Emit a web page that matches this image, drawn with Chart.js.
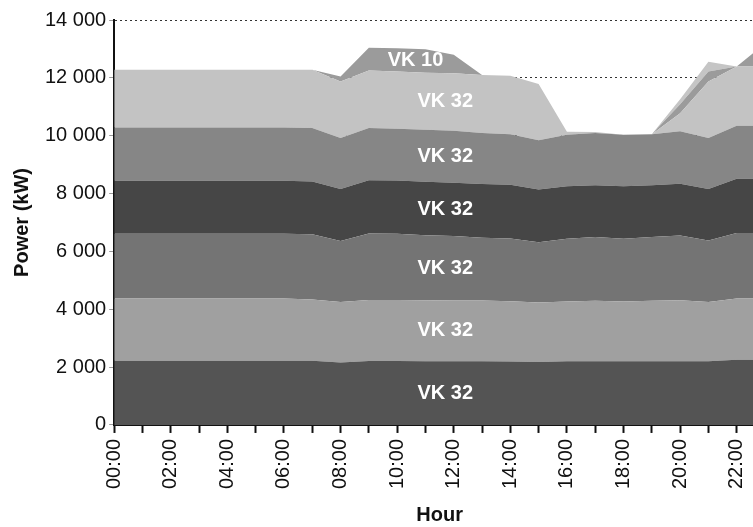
<!DOCTYPE html>
<html lang="en">
<head>
  <meta charset="UTF-8">
  <title>Power by hour</title>
  <script src="https://cdn.jsdelivr.net/npm/chart.js"></script>
  <style>
    html, body {
      margin: 0;
      padding: 0;
      background: #fff;
      overflow: hidden;
    }
    .wrap {
      position: relative;
      width: 795px;
      height: 527px;
    }
  </style>
</head>
<body>
  <div class="wrap"><canvas id="powerChart"></canvas></div>

  <script>
    const hours = ["00:00", "01:00", "02:00", "03:00", "04:00", "05:00", "06:00", "07:00",
                   "08:00", "09:00", "10:00", "11:00", "12:00", "13:00", "14:00", "15:00",
                   "16:00", "17:00", "18:00", "19:00", "20:00", "21:00", "22:00", "23:00"];

    // kW per unit, stacked bottom to top
    const vk32a = [2220, 2220, 2220, 2220, 2220, 2220, 2220, 2220, 2160, 2210, 2210, 2200, 2200, 2200, 2190, 2180, 2200, 2200, 2200, 2200, 2200, 2200, 2250, 2250];
    const vk32b = [2150, 2150, 2150, 2150, 2150, 2150, 2150, 2120, 2090, 2110, 2110, 2110, 2100, 2100, 2090, 2050, 2070, 2090, 2070, 2090, 2110, 2050, 2120, 2120];
    const vk32c = [2240, 2240, 2240, 2240, 2240, 2240, 2240, 2250, 2110, 2300, 2290, 2250, 2230, 2170, 2170, 2090, 2170, 2210, 2170, 2210, 2240, 2130, 2270, 2270];
    const vk32d = [1830, 1830, 1830, 1830, 1830, 1830, 1830, 1830, 1800, 1840, 1840, 1850, 1840, 1860, 1850, 1820, 1810, 1790, 1810, 1790, 1790, 1780, 1870, 1870];
    const vk32e = [1840, 1840, 1840, 1840, 1840, 1840, 1840, 1850, 1760, 1810, 1790, 1800, 1800, 1760, 1750, 1700, 1780, 1800, 1780, 1760, 1810, 1760, 1830, 1830];
    const vk32f = [2000, 2000, 2000, 2000, 2000, 2000, 2000, 2010, 1950, 1980, 1980, 1970, 1990, 2010, 2020, 1950, 110, 40, 0, 0, 630, 1950, 2050, 2050];
    const vk10  = [0, 0, 0, 0, 0, 0, 0, 0, 180, 790, 800, 810, 640, 0, 0, 0, 0, 0, 0, 0, 310, 350, 0, 800];
    const vk32g = [0, 0, 0, 0, 0, 0, 0, 0, 0, 0, 0, 0, 0, 0, 0, 0, 0, 0, 0, 0, 170, 340, 0, 0];

    const seriesNames  = ["VK 32", "VK 32", "VK 32", "VK 32", "VK 32", "VK 32", "VK 10", "VK 32"];
    const seriesData   = [vk32a, vk32b, vk32c, vk32d, vk32e, vk32f, vk10, vk32g];
    const seriesColors = ["#545454", "#a0a0a0", "#747474", "#464646", "#868686", "#c3c3c3", "#9b9b9b", "#c5c5c5"];
    // where along the hour axis each band name is written (null = no label)
    const labelPos = [11.7, 11.7, 11.7, 11.7, 11.7, 11.7, 10.65, null];

    const fontFamily = '"Liberation Sans", Arial, Helvetica, sans-serif';

    function spaced(v) {
      return String(v).replace(/\B(?=(\d{3})+(?!\d))/g, " ");
    }

    function valueAt(arr, t) {
      const i = Math.floor(t);
      const f = t - i;
      if (i >= arr.length - 1) return arr[arr.length - 1];
      return arr[i] * (1 - f) + arr[i + 1] * f;
    }

    const bandLabels = {
      id: "bandLabels",
      afterDatasetsDraw(chart) {
        const { ctx, scales: { x, y } } = chart;
        ctx.save();
        ctx.font = "bold 20px " + fontFamily;
        ctx.fillStyle = "#fff";
        ctx.textAlign = "center";
        ctx.textBaseline = "middle";
        seriesData.forEach((arr, k) => {
          const t = labelPos[k];
          if (t === null) return;
          let bottom = 0;
          for (let j = 0; j < k; j++) bottom += valueAt(seriesData[j], t);
          const mid = bottom + valueAt(arr, t) / 2;
          ctx.fillText(seriesNames[k], x.getPixelForValue(t), y.getPixelForValue(mid));
        });
        ctx.restore();
      }
    };

    const datasets = seriesData.map((arr, k) => ({
      label: seriesNames[k],
      data: arr,
      backgroundColor: seriesColors[k],
      borderColor: "rgba(0,0,0,0)",
      borderWidth: 0,
      pointRadius: 0,
      tension: 0,
      fill: k === 0 ? "origin" : "-1"
    }));

    const ctx = document.getElementById("powerChart").getContext("2d");
    new Chart(ctx, {
      type: "line",
      data: { labels: hours, datasets: datasets },
      plugins: [bandLabels],
      options: {
        responsive: true,
        maintainAspectRatio: false,
        animation: false,
        layout: { padding: { top: 20, right: 8, left: 10, bottom: 0 } },
        plugins: {
          legend: { display: false },
          tooltip: { enabled: false }
        },
        scales: {
          x: {
            offset: false,
            grid: { drawOnChartArea: false, tickLength: 8, tickColor: "#111", tickWidth: 2 },
            border: { color: "#111", width: 2 },
            ticks: {
              autoSkip: false,
              maxRotation: 90,
              minRotation: 90,
              padding: 6,
              color: "#111",
              font: { size: 20, family: fontFamily },
              callback: (v, i) => (i % 2 === 0 ? hours[i] : "")
            },
            title: {
              display: true,
              text: "Hour",
              color: "#111",
              font: { size: 20, weight: "bold", family: fontFamily },
              padding: { top: 8, bottom: 0 }
            }
          },
          y: {
            stacked: true,
            min: 0,
            max: 14000,
            grid: { color: "#333", tickColor: "#999", tickLength: 5 },
            border: { color: "#111", width: 2, dash: [2, 3] },
            ticks: {
              stepSize: 2000,
              padding: 3,
              color: "#111",
              font: { size: 20, family: fontFamily },
              callback: v => spaced(v)
            },
            title: {
              display: true,
              text: "Power (kW)",
              color: "#111",
              font: { size: 20, weight: "bold", family: fontFamily },
              padding: { top: 0, bottom: 8 }
            }
          }
        }
      }
    });
  </script>
</body>
</html>
